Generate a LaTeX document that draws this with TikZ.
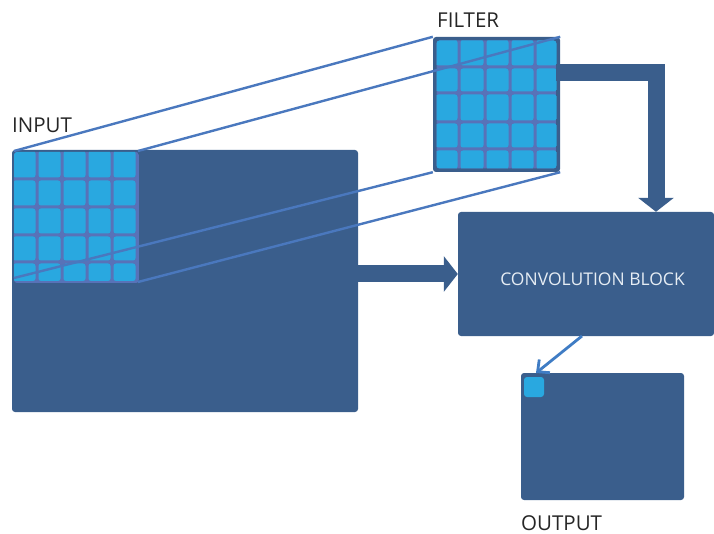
\documentclass[tikz,border=0pt]{standalone}
\usepackage{fontspec}
\setmainfont{Open Sans}
\usetikzlibrary{arrows.meta}
\definecolor{dkblue}{HTML}{3A5E8C}
\definecolor{ltblue}{HTML}{29A8E0}
\definecolor{gridc}{HTML}{5872B8}
\definecolor{lnblue}{HTML}{4A78BE}
\definecolor{arblue}{HTML}{3F7CC4}
\definecolor{txtw}{HTML}{E6EDF4}
\tikzset{
  darkbox/.style={fill=dkblue, draw=none, rounded corners=3pt, inner sep=0pt},
  cell/.style={fill=ltblue, rounded corners=2.5pt},
  projline/.style={draw=lnblue, line width=2.4pt},
  fatarrow/.style={draw=dkblue, line width=17pt, -{Triangle[length=14pt,width=35pt]}},
  thinarrow/.style={draw=arblue, line width=2.8pt, -{Straight Barb[length=9pt,width=17pt,line width=2.8pt]}},
  lbl/.style={font=\fontsize{20.5}{24}\selectfont, text=black!85, inner sep=0pt, anchor=base west}
}
\begin{document}
\begin{tikzpicture}[x=1pt,y=-1pt]
\useasboundingbox (0,0) rectangle (714,534);
% input
\node[darkbox, minimum width=346pt, minimum height=262pt] (input) at (185,281) {};
\begin{scope}
  \clip[rounded corners=3pt] (14,152) rectangle (139,283);
  \fill[gridc] (14,152) rectangle (139,283);
  \foreach \xa/\xb in {13/35.5,38.5/60.5,63.5/85.5,88.5/110.5,113.5/135.5}
    \foreach \ya/\yb in {151/177.5,180.5/205.5,208.5/233.5,236.5/260.5,263.5/281}
      \fill[cell] (\xa,\ya) rectangle (\xb,\yb);
\end{scope}
\coordinate (itl) at (14,151);
\coordinate (itr) at (138,151);
\coordinate (ibl) at (14,278);
\coordinate (ibr) at (138,282);
% filter
\node[darkbox, minimum width=127pt, minimum height=135pt] (filter) at (496.5,104.5) {};
\begin{scope}
  \clip[rounded corners=3pt] (436.5,40.5) rectangle (556.5,168.5);
  \fill[gridc] (436,40) rectangle (557,169);
  \foreach \xa/\xb in {436/457.5,460.5/483.5,486.5/508.5,511.5/533.5,536.5/557}
    \foreach \ya/\yb in {40/65.5,68.5/91.5,94.5/120.5,123.5/147.5,150.5/169}
      \fill[cell] (\xa,\ya) rectangle (\xb,\yb);
\end{scope}
% projection lines
\draw[projline] (itl) -- (filter.north west);
\draw[projline] (itr) -- (filter.north east);
\draw[projline] (ibl) -- (filter.south west);
\draw[projline] (ibr) -- (filter.south east);
% convolution block
\node[darkbox, minimum width=256pt, minimum height=124pt] (conv) at (586,274) {};
\node[font=\fontsize{17.5}{21}\selectfont, text=txtw, inner sep=0pt, anchor=base] (convt) at (592.5,286) {CONVOLUTION BLOCK};
% output
\node[darkbox, minimum width=163pt, minimum height=127pt] (output) at (602.5,436.5) {};
\node[fill=ltblue, rounded corners=3pt, minimum width=20pt, minimum height=20pt, inner sep=0pt] (pix) at (534,387) {};
% arrows
\draw[fatarrow] (input.east |- conv.west) -- (conv.west);
\coordinate (fout) at (556,73);
\coordinate (bend) at (656,73);
\draw[fatarrow, line join=miter] (fout) -- (bend) -- (bend |- conv.north);
\coordinate (cstart) at (582,336);
\coordinate (cend) at (536,373);
\draw[thinarrow] (cstart) -- (cend);
% labels
\node[lbl] (tin) at (12,133) {INPUT};
\node[lbl] (tfi) at (437,28) {FILTER};
\node[lbl] (tout) at (521,530) {OUTPUT};
\end{tikzpicture}
\end{document}
